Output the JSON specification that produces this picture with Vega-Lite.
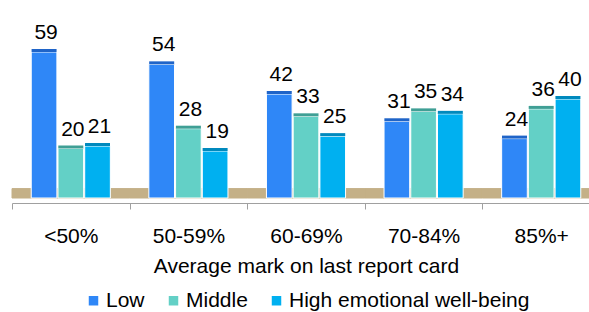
{
  "$schema": "https://vega.github.io/schema/vega-lite/v6.json",
  "width": 588,
  "height": 198,
  "padding": {"left": 11, "top": 0, "right": 0, "bottom": 0},
  "background": "white",
  "config": {
    "view": {"stroke": null},
    "font": "Liberation Sans",
    "text": {"font": "Liberation Sans"},
    "legend": {"layout": {"bottom": {"anchor": "middle"}}}
  },
  "datasets": {
    "bars": [
      {"grade": "<50%", "series": "Low", "value": 59},
      {"grade": "<50%", "series": "Middle", "value": 20},
      {"grade": "<50%", "series": "High emotional well-being", "value": 21},
      {"grade": "50-59%", "series": "Low", "value": 54},
      {"grade": "50-59%", "series": "Middle", "value": 28},
      {"grade": "50-59%", "series": "High emotional well-being", "value": 19},
      {"grade": "60-69%", "series": "Low", "value": 42},
      {"grade": "60-69%", "series": "Middle", "value": 33},
      {"grade": "60-69%", "series": "High emotional well-being", "value": 25},
      {"grade": "70-84%", "series": "Low", "value": 31},
      {"grade": "70-84%", "series": "Middle", "value": 35},
      {"grade": "70-84%", "series": "High emotional well-being", "value": 34},
      {"grade": "85%+", "series": "Low", "value": 24},
      {"grade": "85%+", "series": "Middle", "value": 36},
      {"grade": "85%+", "series": "High emotional well-being", "value": 40}
    ],
    "grades": [
      {"grade": "<50%"}, {"grade": "50-59%"}, {"grade": "60-69%"}, {"grade": "70-84%"}, {"grade": "85%+"}
    ]
  },
  "encoding": {
    "x": {
      "field": "grade",
      "type": "nominal",
      "sort": ["<50%", "50-59%", "60-69%", "70-84%", "85%+"],
      "scale": {"paddingInner": 0, "paddingOuter": 0},
      "axis": {
        "title": "Average mark on last report card",
        "titleFontSize": 21,
        "titleFontWeight": "normal",
        "titleColor": "black",
        "titleFont": "Liberation Sans",
        "titlePadding": 9,
        "labelFontSize": 21,
        "labelColor": "black",
        "labelFont": "Liberation Sans",
        "labelAngle": 0,
        "labelPadding": 16,
        "offset": 5,
        "tickBand": "extent",
        "tickSize": 6,
        "tickColor": "#a0a0a0",
        "domainColor": "#a0a0a0",
        "grid": false
      }
    }
  },
  "layer": [
    {
      "data": {"name": "grades"},
      "mark": {"type": "rect", "color": "#c4b087", "stroke": "#c4b087", "strokeWidth": 1},
      "encoding": {
        "y": {"datum": 0, "type": "quantitative", "scale": {"domain": [0, 75]}, "axis": null},
        "y2": {"datum": 3.8}
      }
    },
    {
      "data": {"name": "bars"},
      "mark": {"type": "bar", "stroke": "white", "strokeWidth": 1},
      "encoding": {
        "xOffset": {
          "field": "series",
          "type": "nominal",
          "sort": ["Low", "Middle", "High emotional well-being"],
          "scale": {"paddingInner": 0.04, "paddingOuter": 0.72}
        },
        "y": {"field": "value", "type": "quantitative", "axis": null},
        "color": {
          "field": "series",
          "type": "nominal",
          "scale": {
            "domain": ["Low", "Middle", "High emotional well-being"],
            "range": ["#2f87f7", "#63d0c6", "#00b0f0"]
          },
          "legend": {
            "title": null,
            "orient": "bottom",
            "direction": "horizontal",
            "symbolType": "square",
            "symbolSize": 90,
            "symbolStrokeWidth": 0,
            "symbolOpacity": 1,
            "labelFontSize": 21,
            "labelColor": "black",
            "labelFont": "Liberation Sans",
            "labelLimit": 400,
            "labelOffset": 2,
            "columnPadding": 18,
            "offset": 14
          }
        }
      }
    },
    {
      "data": {"name": "bars"},
      "mark": {"type": "tick", "thickness": 3, "size": 25, "yOffset": -1.5, "opacity": 1},
      "encoding": {
        "xOffset": {
          "field": "series",
          "type": "nominal",
          "sort": ["Low", "Middle", "High emotional well-being"]
        },
        "y": {"field": "value", "type": "quantitative"},
        "fill": {
          "field": "series",
          "type": "nominal",
          "scale": {
            "domain": ["Low", "Middle", "High emotional well-being"],
            "range": ["#1f64c8", "#3f9f95", "#0089bd"]
          },
          "legend": null
        }
      }
    },
    {
      "data": {"name": "bars"},
      "mark": {"type": "text", "fontSize": 21, "baseline": "alphabetic", "dy": -13, "dx": 2, "color": "black"},
      "encoding": {
        "xOffset": {
          "field": "series",
          "type": "nominal",
          "sort": ["Low", "Middle", "High emotional well-being"]
        },
        "y": {"field": "value", "type": "quantitative"},
        "text": {"field": "value", "type": "quantitative"}
      }
    }
  ]
}
